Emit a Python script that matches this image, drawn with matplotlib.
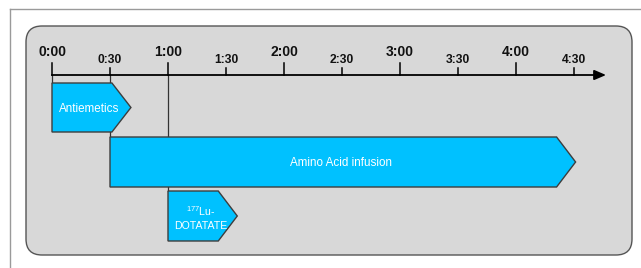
import matplotlib
matplotlib.use('Agg')
import matplotlib.pyplot as plt
from matplotlib.patches import Polygon, FancyBboxPatch

plt.rcParams['font.family'] = ['Liberation Sans', 'DejaVu Sans']
plt.rcParams['mathtext.default'] = 'regular'

# timeline ticks (minutes from start)
hour_ticks = [0, 60, 120, 180, 240]
hour_labels = ['0:00', '1:00', '2:00', '3:00', '4:00']
half_ticks = [30, 90, 150, 210, 270]
half_labels = ['0:30', '1:30', '2:30', '3:30', '4:30']

# treatment steps: start / end of body in minutes
steps = ['Antiemetics', 'Amino Acid infusion', '$^{177}$Lu-\nDOTATATE']
starts = [0, 30, 60]
ends = [31, 261, 86]

# layout (pixels)
W, H = 641, 268
x0_px = 52
px_per_min = 116 / 60
axis_y = 75
rows = [(83, 132), (137, 187), (191, 241)]
text_sizes = [8.4, 8.4, 7.6]
tip_px = 19
fill = '#00C1FF'

fig = plt.figure(figsize=(W / 100, H / 100), dpi=100)

# background frame and rounded box in pixel coordinates
bg = fig.add_axes([0, 0, 1, 1])
bg.set_xlim(0, W)
bg.set_ylim(H, 0)
bg.axis('off')
bg.plot([10, 10], [9, H], color='#9a9a9a', lw=1)
bg.plot([10, W], [9, 9], color='#9a9a9a', lw=1)
bg.add_patch(FancyBboxPatch((26, 26), 606, 229,
                            boxstyle='round,pad=0,rounding_size=16',
                            fc='#D8D8D8', ec='#555555', lw=1))

# timeline axes: x in minutes, y in pixels
ax = fig.add_axes([0, 0, 1, 1])
ax.patch.set_alpha(0)
ax.axis('off')
ax.set_xlim(-x0_px / px_per_min, (W - x0_px) / px_per_min)
ax.set_ylim(H, 0)

tip = tip_px / px_per_min
end_axis = (603 - x0_px) / px_per_min
ax.plot([0, end_axis], [axis_y, axis_y], color='black', lw=1.3, zorder=3)
ax.annotate('', xy=(end_axis + 3, axis_y), xytext=(end_axis - 4, axis_y),
            arrowprops=dict(arrowstyle='-|>,head_length=0.7,head_width=0.3',
                            color='black', lw=1.3), zorder=3)

for t, lab in zip(hour_ticks, hour_labels):
    ax.plot([t, t], [63, axis_y], color='black', lw=1.1, zorder=3)
    ax.text(t, 52, lab, ha='center', va='center', fontsize=10,
            fontweight='bold', color='#111111')
for t, lab in zip(half_ticks, half_labels):
    ax.plot([t, t], [68, axis_y], color='black', lw=1.1, zorder=3)
    ax.text(t, 60, lab, ha='center', va='center', fontsize=8.7,
            fontweight='bold', color='#111111')

for name, s, e, (top, bot), fs in zip(steps, starts, ends, rows, text_sizes):
    # guide line from the axis down to the step
    ax.plot([s, s], [axis_y, top], color='#333333', lw=0.9, zorder=1)
    mid = (top + bot) / 2
    pts = [(s, top), (e, top), (e + tip, mid), (e, bot), (s, bot)]
    ax.add_patch(Polygon(pts, closed=True, fc=fill, ec='#3d3d3d',
                         lw=1, zorder=2))
    ax.text((s + e + tip) / 2 - 1, mid + 1.5, name, ha='center', va='center',
            fontsize=fs, color='white', linespacing=1.3, zorder=4)

fig.savefig('out.png', dpi=100)
